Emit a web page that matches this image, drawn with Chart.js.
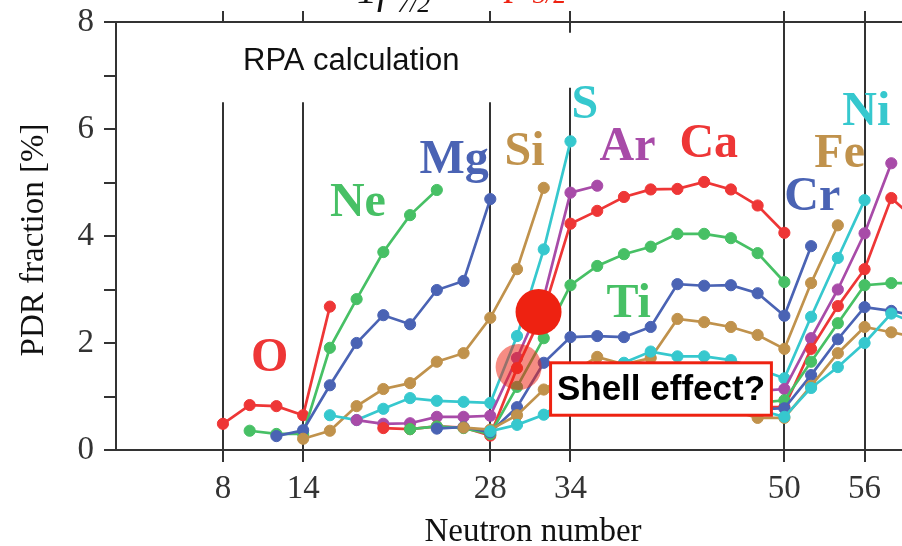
<!DOCTYPE html>
<html>
<head>
<meta charset="utf-8">
<script src="https://cdn.jsdelivr.net/npm/chart.js@4.4.0/dist/chart.umd.min.js"></script>
<style>
  body { margin: 0; background: #fff; }
  canvas { display: block; }
</style>
</head>
<body>
<canvas id="pdrchart" width="902" height="546"></canvas>
<script>
// PDR fraction (%) vs neutron number, one chain per element (RPA)
const magicNumbers = [8, 14, 28, 34, 50, 56];

const nO = [8, 10, 12, 14, 16];
const pdrO = [0.49, 0.84, 0.82, 0.65, 2.68];
const nNe = [10, 12, 14, 16, 18, 20, 22, 24];
const pdrNe = [0.36, 0.30, 0.30, 1.91, 2.82, 3.70, 4.39, 4.86];
const nMg = [12, 14, 16, 18, 20, 22, 24, 26, 28];
const pdrMg = [0.26, 0.37, 1.21, 2.00, 2.52, 2.35, 2.99, 3.16, 4.69];
const nSi = [14, 16, 18, 20, 22, 24, 26, 28, 30, 32];
const pdrSi = [0.21, 0.36, 0.82, 1.14, 1.25, 1.65, 1.81, 2.47, 3.38, 4.90];
const nS = [16, 18, 20, 22, 24, 26, 28, 30, 32, 34];
const pdrS = [0.65, 0.56, 0.77, 0.97, 0.92, 0.90, 0.88, 2.13, 3.75, 5.77];
const nAr = [18, 20, 22, 24, 26, 28, 30, 32, 34, 36];
const pdrAr = [0.56, 0.49, 0.50, 0.62, 0.62, 0.64, 1.72, 2.85, 4.81, 4.94];
const nCa = [20, 22, 24, 26, 28, 30, 32, 34, 36, 38, 40, 42, 44, 46, 48, 50];
const pdrCa = [0.41, 0.39, 0.44, 0.42, 0.27, 1.53, 2.6, 4.23, 4.47, 4.73, 4.87, 4.88, 5.01, 4.87, 4.57, 4.06];
const nTi = [22, 24, 26, 28, 30, 32, 34, 36, 38, 40, 42, 44, 46, 48, 50];
const pdrTi = [0.39, 0.44, 0.41, 0.30, 1.18, 2.09, 3.08, 3.44, 3.66, 3.80, 4.04, 4.04, 3.96, 3.68, 3.14];
const nCr = [24, 26, 28, 30, 32, 34, 36, 38, 40, 42, 44, 46, 48, 50, 52];
const pdrCr = [0.40, 0.43, 0.33, 0.80, 1.63, 2.11, 2.13, 2.11, 2.30, 3.10, 3.07, 3.08, 2.93, 2.51, 3.81];
const nFe = [26, 28, 30, 32, 34, 36, 38, 40, 42, 44, 46, 48, 50, 52, 54];
const pdrFe = [0.42, 0.38, 0.65, 1.13, 1.44, 1.74, 1.60, 1.72, 2.45, 2.39, 2.30, 2.15, 1.89, 3.12, 4.20];
const nNi = [28, 30, 32, 34, 36, 38, 40, 42, 44, 46, 48, 50, 52, 54, 56];
const pdrNi = [0.35, 0.47, 0.66, 1.00, 1.30, 1.63, 1.84, 1.75, 1.75, 1.68, 1.52, 1.34, 2.49, 3.59, 4.67];
const nZn = [36, 38, 40, 42, 44, 46, 48, 50, 52, 54, 56, 58];
const pdrZn = [0.90, 0.95, 1.00, 1.00, 1.00, 1.05, 1.10, 1.14, 2.09, 3.00, 4.05, 5.36];
const nGe = [38, 40, 42, 44, 46, 48, 50, 52, 54, 56, 58, 60];
const pdrGe = [0.80, 0.80, 0.80, 0.80, 0.80, 0.80, 0.80, 1.89, 2.69, 3.38, 4.71, 4.26];
const nSe = [40, 42, 44, 46, 48, 50, 52, 54, 56, 58, 60];
const pdrSe = [0.85, 0.85, 0.85, 0.85, 0.88, 0.93, 1.65, 2.37, 3.08, 3.12, 3.12];
const nKr = [42, 44, 46, 48, 50, 52, 54, 56, 58, 60];
const pdrKr = [0.75, 0.75, 0.75, 0.76, 0.78, 1.40, 2.07, 2.67, 2.60, 2.50];
const nSr = [44, 46, 48, 50, 52, 54, 56, 58, 60];
const pdrSr = [0.80, 0.75, 0.60, 0.60, 1.20, 1.81, 2.30, 2.20, 2.10];
const nZr = [46, 48, 50, 52, 54, 56, 58, 60];
const pdrZr = [0.75, 0.75, 0.62, 1.16, 1.55, 2.00, 2.55, 2.35];

const chains = [
  ["O", nO, pdrO], ["Ne", nNe, pdrNe], ["Mg", nMg, pdrMg], ["Si", nSi, pdrSi],
  ["S", nS, pdrS], ["Ar", nAr, pdrAr], ["Ca", nCa, pdrCa], ["Ti", nTi, pdrTi],
  ["Cr", nCr, pdrCr], ["Fe", nFe, pdrFe], ["Ni", nNi, pdrNi], ["Zn", nZn, pdrZn],
  ["Ge", nGe, pdrGe], ["Se", nSe, pdrSe], ["Kr", nKr, pdrKr], ["Sr", nSr, pdrSr],
  ["Zr", nZr, pdrZr]
];

const palette = ["#ee3636", "#47c065", "#4a63b4", "#c0924c", "#36c8ce", "#a84ba8"];

// where each element name sits (left edge, baseline) in data units
const labelSpots = {
  O: [10.09, 1.48], Ne: [16.0, 4.37], Mg: [22.7, 5.18], Si: [29.07, 5.33],
  S: [34.08, 6.21], Ar: [36.17, 5.42], Ca: [42.15, 5.48], Ti: [36.69, 2.49],
  Cr: [50.0, 4.49], Fe: [52.24, 5.29], Ni: [54.33, 6.07]
};

// vertical shell lines: [N, from, to]
const shellLines = [[8, 0, 6.5], [14, 0, 6.5], [28, 0, 6.5], [34, 0, 6.77], [34, 7.8, 8], [50, 0, 8], [56, 0, 8]];

const datasets = chains.map(function (c, i) {
  const col = palette[i % 6];
  return {
    label: c[0],
    data: c[1].map((n, k) => ({ x: n, y: c[2][k] })),
    borderColor: col,
    backgroundColor: col,
    pointBackgroundColor: col,
    pointBorderColor: col,
    borderWidth: 2.7,
    pointRadius: 5.6,
    pointBorderWidth: 1,
    order: chains.length - i
  };
});

const decor = {
  id: "decor",
  beforeDatasetsDraw(chart) {
    const ctx = chart.ctx, x = chart.scales.x, y = chart.scales.y;
    ctx.save();
    ctx.strokeStyle = "#333";
    ctx.lineWidth = 2;
    shellLines.forEach(function (s) {
      const px = Math.round(x.getPixelForValue(s[0]));
      ctx.beginPath();
      ctx.moveTo(px, y.getPixelForValue(s[1]));
      ctx.lineTo(px, y.getPixelForValue(s[2]));
      ctx.stroke();
    });
    ctx.restore();
  },
  afterDatasetsDraw(chart) {
    const ctx = chart.ctx, x = chart.scales.x, y = chart.scales.y;
    ctx.save();

    // element names
    ctx.font = "bold 48px 'Liberation Serif'";
    ctx.textAlign = "left";
    ctx.textBaseline = "alphabetic";
    chains.forEach(function (c, i) {
      const spot = labelSpots[c[0]];
      if (!spot) return;
      ctx.fillStyle = palette[i % 6];
      ctx.fillText(c[0], x.getPixelForValue(spot[0]), y.getPixelForValue(spot[1]));
    });

    ctx.fillStyle = "#111";
    ctx.font = "31px 'Liberation Sans'";
    ctx.fillText("RPA calculation", x.getPixelForValue(9.5), y.getPixelForValue(7.1));

    // orbital labels, cut by the top edge
    ctx.font = "italic 40px 'Liberation Serif'";
    ctx.fillText("1f", 357, 3);
    ctx.font = "italic 26px 'Liberation Serif'";
    ctx.fillText("7/2", 397, 12);
    ctx.fillStyle = "#ee2211";
    ctx.font = "italic 40px 'Liberation Serif'";
    ctx.fillText("2p", 486, -6);
    ctx.font = "italic 26px 'Liberation Serif'";
    ctx.fillText("3/2", 533, 3);

    // markers
    ctx.fillStyle = "rgba(238,34,17,0.52)";
    ctx.beginPath();
    ctx.arc(x.getPixelForValue(30.12), y.getPixelForValue(1.55), 23, 0, Math.PI * 2);
    ctx.fill();
    ctx.fillStyle = "#ee2211";
    ctx.beginPath();
    ctx.arc(x.getPixelForValue(31.61), y.getPixelForValue(2.58), 23, 0, Math.PI * 2);
    ctx.fill();

    const bx0 = x.getPixelForValue(32.51), bx1 = x.getPixelForValue(49.03);
    const by0 = y.getPixelForValue(1.63), by1 = y.getPixelForValue(0.65);
    ctx.fillStyle = "#fff";
    ctx.fillRect(bx0, by0, bx1 - bx0, by1 - by0);
    ctx.strokeStyle = "#ee2211";
    ctx.lineWidth = 3;
    ctx.strokeRect(bx0, by0, bx1 - bx0, by1 - by0);
    ctx.fillStyle = "#000";
    ctx.font = "bold 35px 'Liberation Sans'";
    ctx.textAlign = "center";
    ctx.textBaseline = "middle";
    ctx.fillText("Shell effect?", (bx0 + bx1) / 2, (by0 + by1) / 2 + 1);

    // axis titles
    ctx.fillStyle = "#111";
    ctx.font = "33px 'Liberation Serif'";
    ctx.textBaseline = "alphabetic";
    ctx.fillText("Neutron number", 533, 541);
    ctx.translate(43, 240);
    ctx.rotate(-Math.PI / 2);
    ctx.fillText("PDR fraction [%]", 0, 0);
    ctx.restore();
  }
};

const tickFont = { family: "Liberation Serif", size: 33 };

function noPad(s) {
  s.paddingTop = 0;
  s.paddingBottom = 0;
  s.paddingLeft = 0;
  s.paddingRight = 0;
}

new Chart(document.getElementById("pdrchart").getContext("2d"), {
  type: "line",
  data: { datasets: datasets },
  options: {
    responsive: false,
    animation: false,
    layout: { padding: 0, autoPadding: false },
    plugins: { legend: { display: false }, tooltip: { enabled: false } },
    scales: {
      x: {
        type: "linear",
        min: 0,
        max: 58.8,
        afterBuildTicks: function (s) { s.ticks = magicNumbers.map(v => ({ value: v })); },
        afterFit: function (s) { s.height = 96; noPad(s); },
        grid: { drawOnChartArea: false, drawTicks: true, tickLength: 12, color: "#333", lineWidth: 2 },
        border: { display: true, color: "#333", width: 2 },
        ticks: { font: tickFont, color: "#333", padding: 8, maxRotation: 0 }
      },
      x2: {
        type: "linear",
        position: "top",
        min: 0,
        max: 58.8,
        afterBuildTicks: function (s) { s.ticks = magicNumbers.map(v => ({ value: v })); },
        afterFit: function (s) { s.height = 22; noPad(s); },
        grid: { drawOnChartArea: false, drawTicks: true, tickLength: 11, color: "#333", lineWidth: 2 },
        border: { display: true, color: "#333", width: 2 },
        ticks: { display: false }
      },
      y: {
        min: 0,
        max: 8,
        afterFit: function (s) { s.width = 116; noPad(s); },
        grid: { drawOnChartArea: false, drawTicks: true, tickLength: 12, color: "#333", lineWidth: 2 },
        border: { display: true, color: "#333", width: 2 },
        ticks: {
          stepSize: 1,
          font: tickFont,
          color: "#333",
          padding: 10,
          callback: v => (v % 2 === 0 ? v : "")
        }
      }
    }
  },
  plugins: [decor]
});
</script>
</body>
</html>
